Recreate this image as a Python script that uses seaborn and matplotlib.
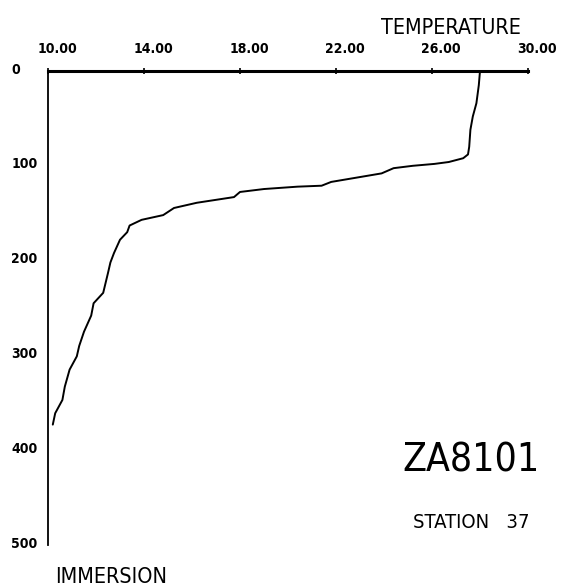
import numpy as np
import pandas as pd
import matplotlib
matplotlib.use("Agg")
import matplotlib.pyplot as plt
from matplotlib.transforms import ScaledTranslation
import seaborn as sns

# profile (temperature vs depth)
temperature = [28.0, 27.95, 27.85, 27.7, 27.6, 27.55, 27.5, 27.3, 26.7, 26.1,
               25.2, 24.4, 23.9, 21.8, 21.4, 20.4, 19.0, 18.0, 17.75, 16.2,
               15.25, 14.8, 13.9, 13.4, 13.3, 13.0, 12.75, 12.6, 12.5, 12.3,
               11.9, 11.8, 11.5, 11.3, 11.2, 10.9, 10.7, 10.6, 10.3, 10.2]
depth = [0, 15, 34, 48, 62, 80, 88, 92, 96, 98,
         100, 102.5, 108, 117, 121, 122, 124.5, 127.6, 133, 139,
         144.5, 152, 157, 163, 170, 178, 192, 202, 213, 234,
         245, 258, 275, 290, 301, 315, 333, 347, 361, 373]

x_ticks = [10, 14, 18, 22, 26, 30]
x_tick_labels = ["10.00", "14.00", "18.00", "22.00", "26.00", "30.00"]
y_ticks = [0, 100, 200, 300, 400, 500]
y_tick_labels = ["0", "100", "200", "300", "400", "500"]

df = pd.DataFrame({"temperature": temperature, "depth": depth})

sns.set_style("white")
plt.rcParams["font.family"] = ["DejaVu Sans"]
plt.rcParams["font.stretch"] = "condensed"
plt.rcParams["text.color"] = "black"
plt.rcParams["xtick.color"] = "black"
plt.rcParams["ytick.color"] = "black"

fig = plt.figure(figsize=(5.62, 5.88), dpi=100)
ax = fig.add_axes([48 / 562, 1 - 545 / 588, 480 / 562, 474 / 588])

sns.lineplot(data=df, x="temperature", y="depth", sort=False, estimator=None,
             color="black", linewidth=1.4, ax=ax)

ax.set_xlim(10, 30)
ax.set_ylim(500, 0)
ax.xaxis.tick_top()
ax.set_xticks(x_ticks)
ax.set_xticklabels(x_tick_labels, fontsize=10, fontweight="bold")
ax.set_yticks(y_ticks)
ax.set_yticklabels(y_tick_labels, fontsize=10, fontweight="bold", ha="left")
ax.tick_params(axis="x", direction="inout", length=4, width=1.2, pad=9)
ax.tick_params(axis="y", direction="inout", length=3, width=1.2, pad=25)
ax.set_xlabel("")
ax.set_ylabel("")

for lab in ax.get_xticklabels():
    lab.set_transform(lab.get_transform() + ScaledTranslation(0.09, 0, fig.dpi_scale_trans))
for lab in ax.get_yticklabels():
    lab.set_transform(lab.get_transform() + ScaledTranslation(0, 0.03, fig.dpi_scale_trans))

for side in ["right", "bottom"]:
    ax.spines[side].set_visible(False)
ax.spines["top"].set_linewidth(2.2)
ax.spines["left"].set_linewidth(1.3)
for side in ["top", "left"]:
    ax.spines[side].set_color("black")

fig.text(521 / 562, 1 - 34 / 588, "TEMPERATURE", fontsize=15.5, ha="right", va="baseline")
fig.text(55 / 562, 1 - 583 / 588, "IMMERSION", fontsize=15.5, ha="left", va="baseline")
fig.text(471 / 562, 1 - 472 / 588, "ZA8101", fontsize=28, ha="center", va="baseline")
fig.text(471 / 562, 1 - 528 / 588, "STATION   37", fontsize=14.5, ha="center", va="baseline")

fig.savefig("out.png", dpi=100, facecolor="white")
